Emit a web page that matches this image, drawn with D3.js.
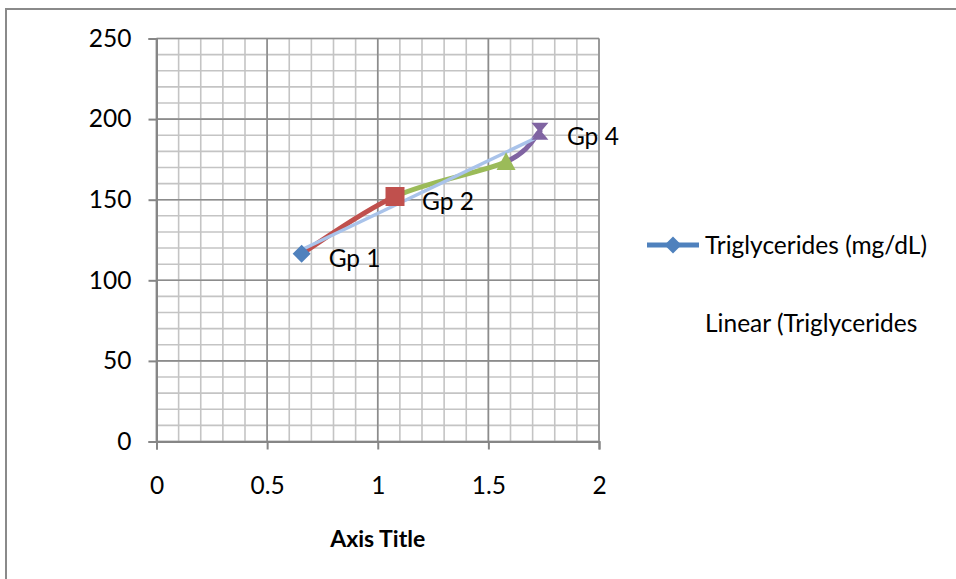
<!DOCTYPE html>
<html>
<head>
<meta charset="utf-8">
<script src="https://cdn.jsdelivr.net/npm/d3@7"></script>
<style>
  html, body { margin: 0; padding: 0; background: #fff; }
  svg { display: block; }
  text { font-family: Lato, "Open Sans", sans-serif; fill: #000; }
</style>
</head>
<body>
<svg id="chart" width="956" height="579"></svg>
<script>
// Group means: x value and triglyceride level (mg/dL)
const groups = ["Gp 1", "Gp 2", "Gp 3", "Gp 4"];
const xValues = [0.656, 1.078, 1.58, 1.733];
const triglycerides = [116.5, 152, 173.5, 192.5];
const showLabel = [true, true, false, true];
const pointColors = ["#4f81bd", "#c0504d", "#9bbb59", "#8064a2"];
const markerShapes = ["diamond", "square", "triangle", "hourglass"];
const xTicks = [0, 0.5, 1, 1.5, 2];
const yTicks = [0, 50, 100, 150, 200, 250];
const legendLabels = ["Triglycerides (mg/dL)", "Linear (Triglycerides"];

const FONT = "Lato, 'Open Sans', sans-serif";
const FS = "24.5px";
const svg = d3.select("#chart");

// outer chart frame
svg.append("rect")
  .attr("x", 6).attr("y", 9).attr("width", 960).attr("height", 590)
  .attr("fill", "#fff").attr("stroke", "#8a8a8a").attr("stroke-width", 2);

const x = d3.scaleLinear().domain([0, 2]).range([156.5, 599]);
const y = d3.scaleLinear().domain([0, 250]).range([441.5, 38.5]);

// minor grid
const g = svg.append("g");
d3.range(0, 2.0001, 0.1).forEach(v => {
  g.append("line").attr("x1", x(v)).attr("x2", x(v)).attr("y1", y(0)).attr("y2", y(250))
    .attr("stroke", "#c4c4c4").attr("stroke-width", 1.6);
});
d3.range(0, 250.001, 10).forEach(v => {
  g.append("line").attr("x1", x(0)).attr("x2", x(2)).attr("y1", y(v)).attr("y2", y(v))
    .attr("stroke", "#c4c4c4").attr("stroke-width", 1.6);
});
// major grid
xTicks.forEach(v => {
  g.append("line").attr("x1", x(v)).attr("x2", x(v)).attr("y1", y(0)).attr("y2", y(250))
    .attr("stroke", "#8c8c8c").attr("stroke-width", 1.6);
});
yTicks.forEach(v => {
  g.append("line").attr("x1", x(0)).attr("x2", x(2)).attr("y1", y(v)).attr("y2", y(v))
    .attr("stroke", "#8c8c8c").attr("stroke-width", 1.6);
});

// axes
const yAxis = d3.axisLeft(y).tickValues(yTicks).tickSize(8).tickPadding(17).tickFormat(d3.format("d"));
const yg = svg.append("g").attr("transform", `translate(${x(0)},0)`).call(yAxis);
const xAxis = d3.axisBottom(x).tickValues(xTicks).tickSize(8).tickPadding(27).tickFormat(d => String(d));
const xg = svg.append("g").attr("transform", `translate(0,${y(0)})`).call(xAxis);
[yg, xg].forEach(a => {
  a.attr("font-size", null).attr("font-family", null);
  a.select(".domain").attr("stroke", "#868686").attr("stroke-width", 2);
  a.selectAll(".tick line").attr("stroke", "#868686").attr("stroke-width", 2);
  a.selectAll(".tick text").style("font-family", FONT)
    .style("font-size", FS).attr("fill", "#000");
});

svg.append("text").attr("x", x(1)).attr("y", 547).attr("text-anchor", "middle")
  .style("font-size", "23px").style("font-weight", "bold").text("Axis Title");

// data points in pixel space
const pts = xValues.map((v, i) => [x(v), y(triglycerides[i])]);

// smoothed series, each segment coloured by its end point (Catmull-Rom style Bezier)
const plot = svg.append("g");
for (let i = 1; i < pts.length; i++) {
  const p0 = pts[Math.max(0, i - 2)], p1 = pts[i - 1], p2 = pts[i], p3 = pts[Math.min(pts.length - 1, i + 1)];
  const t = 6;
  const c1 = [p1[0] + (p2[0] - p0[0]) / t, p1[1] + (p2[1] - p0[1]) / t];
  const c2 = [p2[0] - (p3[0] - p1[0]) / t, p2[1] - (p3[1] - p1[1]) / t];
  const path = d3.path();
  path.moveTo(p1[0], p1[1]);
  path.bezierCurveTo(c1[0], c1[1], c2[0], c2[1], p2[0], p2[1]);
  plot.append("path").attr("d", path.toString()).attr("fill", "none")
    .attr("stroke", pointColors[i]).attr("stroke-width", 5).attr("stroke-linecap", "round");
}

// linear trendline (least squares)
const mx = d3.mean(xValues), my = d3.mean(triglycerides);
const slope = d3.sum(xValues, (v, i) => (v - mx) * (triglycerides[i] - my)) / d3.sum(xValues, v => (v - mx) ** 2);
const intercept = my - slope * mx;
const x0 = d3.min(xValues), x1 = d3.max(xValues);
plot.append("line")
  .attr("x1", x(x0)).attr("y1", y(intercept + slope * x0))
  .attr("x2", x(x1)).attr("y2", y(intercept + slope * x1))
  .attr("stroke", "#a9c3ea").attr("stroke-width", 3.5);

function markerPath(shape, s) {
  const h = s / 2;
  switch (shape) {
    case "diamond": return `M0,${-h}L${h},0L0,${h}L${-h},0Z`;
    case "square": return `M${-h},${-h}H${h}V${h}H${-h}Z`;
    case "triangle": return `M0,${-h}L${h},${h * 0.85}L${-h},${h * 0.85}Z`;
    case "hourglass": return `M${-h},${-h}H${h}L${h * 0.15},0L${h},${h}H${-h}L${-h * 0.15},0Z`;
  }
}
const markerSizes = [18, 19, 19, 17];
pts.forEach((p, i) => {
  plot.append("path").attr("d", markerPath(markerShapes[i], markerSizes[i]))
    .attr("transform", `translate(${p[0]},${p[1]})`)
    .attr("fill", pointColors[i]);
});

// data labels
pts.forEach((p, i) => {
  if (!showLabel[i]) return;
  svg.append("text").attr("x", p[0] + 27).attr("y", p[1] + 5).attr("dy", "0.35em")
    .style("font-size", FS).text(groups[i]);
});

// legend
const lg = svg.append("g");
lg.append("line").attr("x1", 647).attr("x2", 699).attr("y1", 245).attr("y2", 245)
  .attr("stroke", pointColors[0]).attr("stroke-width", 5);
lg.append("path").attr("d", markerPath("diamond", 17)).attr("transform", "translate(673,245)")
  .attr("fill", pointColors[0]);
lg.append("text").attr("x", 705).attr("y", 245).attr("dy", "0.35em").style("font-size", FS).text(legendLabels[0]);
lg.append("text").attr("x", 705).attr("y", 323).attr("dy", "0.35em").style("font-size", FS).text(legendLabels[1]);
</script>
</body>
</html>
